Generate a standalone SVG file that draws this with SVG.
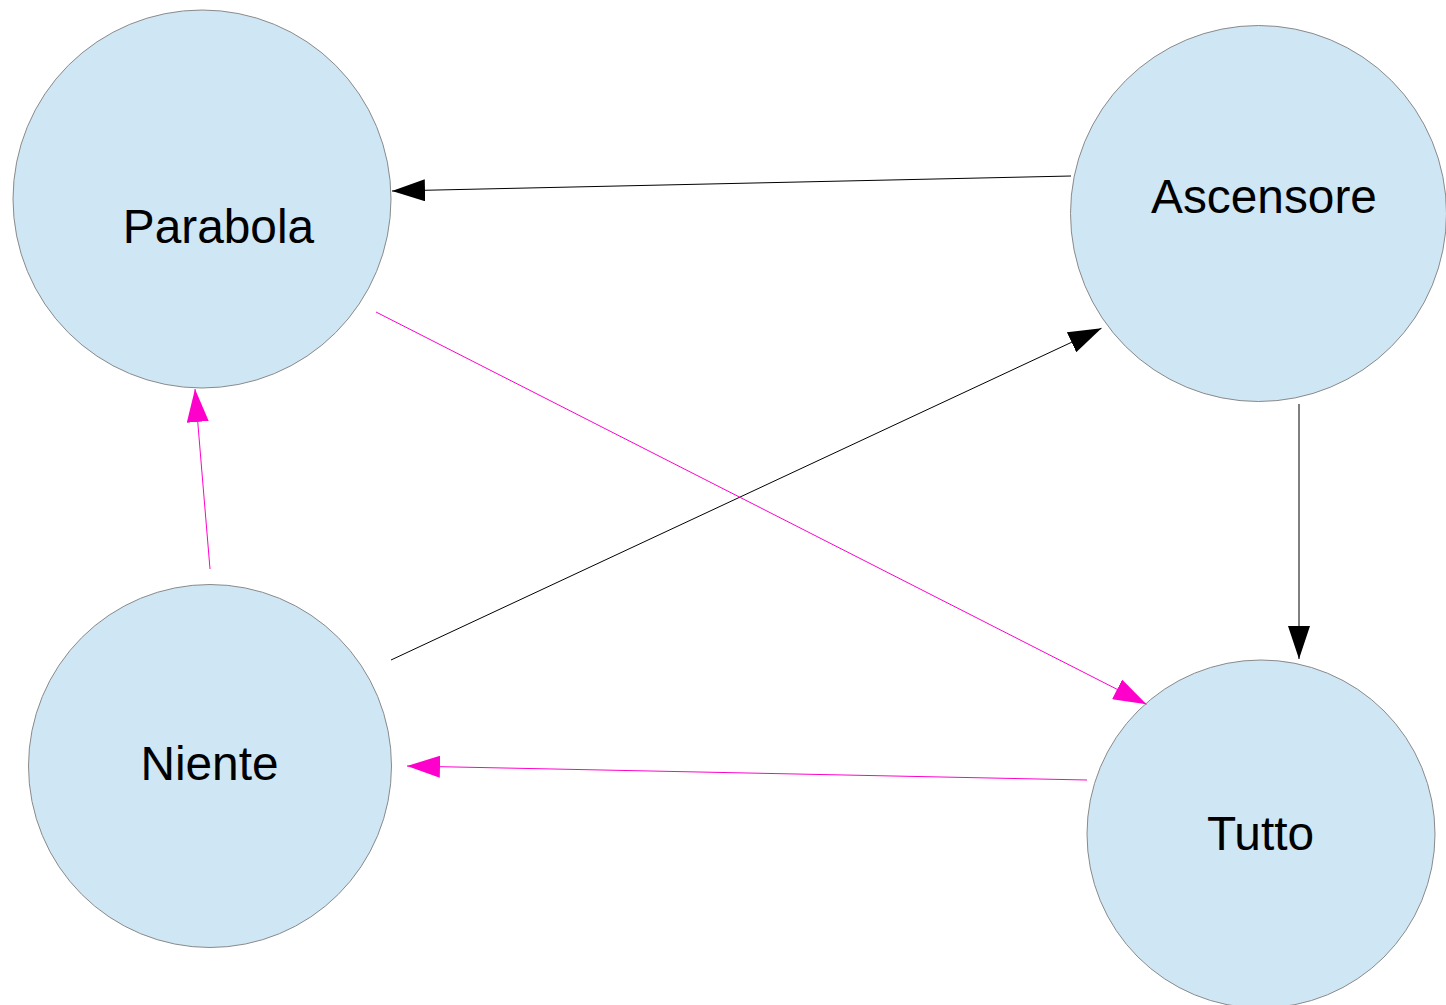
<svg xmlns="http://www.w3.org/2000/svg" width="1446" height="1005" viewBox="0 0 1446 1005">
  <defs>
    <style>
      .node { fill: #cfe6f4; stroke: #8a8a8a; stroke-width: 1; }
      .label { font-family: "Liberation Sans", Arial, sans-serif; font-size: 47.8px; fill: #000; text-anchor: middle; }
      .black { stroke: #000; stroke-width: 1; fill: none; }
      .pink { stroke: #ff00cc; stroke-width: 1; fill: none; }
    </style>
    <marker id="ahBlack" viewBox="0 0 33 22" markerWidth="33" markerHeight="22" refX="33" refY="11" orient="auto" markerUnits="userSpaceOnUse">
      <path d="M0,0 L33,11 L0,22 Z" fill="#000"/>
    </marker>
    <marker id="ahPink" viewBox="0 0 33 22" markerWidth="33" markerHeight="22" refX="33" refY="11" orient="auto" markerUnits="userSpaceOnUse">
      <path d="M0,0 L33,11 L0,22 Z" fill="#ff00cc"/>
    </marker>
  </defs>
  <rect width="1446" height="1005" fill="#fff"/>
  <g id="parabola">
    <circle class="node" cx="202" cy="199" r="189"/>
    <text class="label" x="218.5" y="243">Parabola</text>
  </g>
  <g id="ascensore">
    <circle class="node" cx="1258.5" cy="213.5" r="188"/>
    <text class="label" x="1264" y="213">Ascensore</text>
  </g>
  <g id="niente">
    <circle class="node" cx="210" cy="766" r="181.5"/>
    <text class="label" x="209.5" y="780">Niente</text>
  </g>
  <g id="tutto">
    <circle class="node" cx="1261" cy="834" r="174"/>
    <text class="label" x="1260.5" y="850">Tutto</text>
  </g>
  <g id="connectors">
    <line class="black" x1="1071" y1="176" x2="392" y2="191" marker-end="url(#ahBlack)"/>
    <line class="black" x1="391" y1="660" x2="1101.5" y2="328.3" marker-end="url(#ahBlack)"/>
    <line class="black" x1="1299" y1="404" x2="1299" y2="659" marker-end="url(#ahBlack)"/>
    <line class="pink" x1="376" y1="312" x2="1146.5" y2="704.3" marker-end="url(#ahPink)"/>
    <line class="pink" x1="1087" y1="780" x2="407" y2="766" marker-end="url(#ahPink)"/>
    <line class="pink" x1="210" y1="569" x2="195" y2="389" marker-end="url(#ahPink)"/>
  </g>
</svg>
